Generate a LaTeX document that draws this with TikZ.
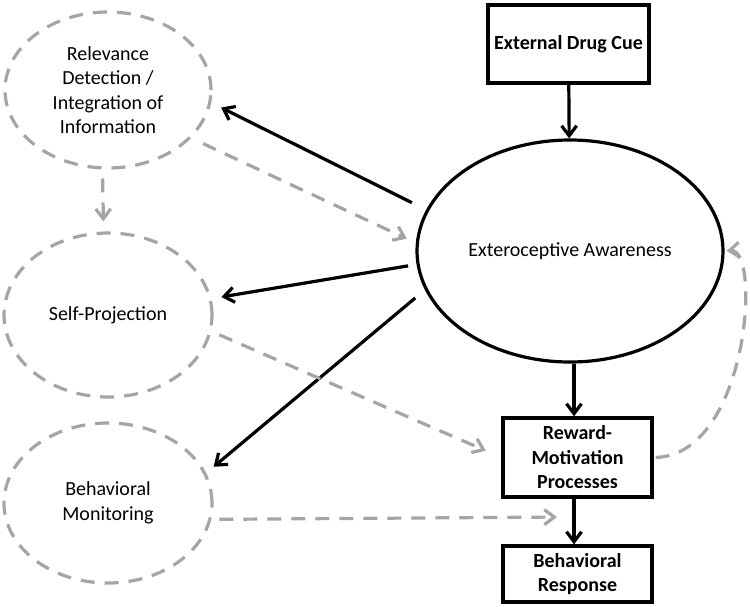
\documentclass[tikz,border=0pt]{standalone}
\usepackage{fontspec}
\setmainfont{Carlito}
\usetikzlibrary{shapes.geometric,arrows.meta,calc}
\definecolor{dgray}{RGB}{165,165,165}
\tikzset{
  lbl/.style={font=\fontsize{20}{24.5}\selectfont, align=center, inner sep=0pt},
  gell/.style={lbl, ellipse, draw=dgray, line width=3.2pt, dash pattern=on 14pt off 10pt},
  bell/.style={lbl, ellipse, draw=black, line width=3.2pt},
  bbox/.style={lbl, rectangle, draw=black, line width=3.2pt, font=\fontsize{20}{24.5}\selectfont\bfseries},
  blk/.style={draw=black, line width=3.2pt, -{Straight Barb[length=10pt,width=15pt]}},
  gry/.style={draw=dgray, line width=3.2pt, dash pattern=on 14pt off 10pt, -{Straight Barb[length=10pt,width=15pt]}},
}
\begin{document}
\begin{tikzpicture}[x=1pt,y=-1pt]
\useasboundingbox (0,0) rectangle (750,606);
% nodes
\node[gell, minimum width=206pt, minimum height=156pt] (rel) at (108,90) {Relevance\\Detection /\\Integration of\\Information};
\node[gell, minimum width=208pt, minimum height=164pt] (self) at (108,315) {Self-Projection};
\node[gell, minimum width=208pt, minimum height=160pt] (bm) at (108,503) {Behavioral\\Monitoring};
\node[bbox, minimum width=161pt, minimum height=78pt] (cue) at (568.5,44) {External Drug Cue};
\node[bell, minimum width=306pt, minimum height=222pt] (ext) at (570,251) {Exteroceptive Awareness};
\node[bbox, minimum width=149pt, minimum height=79pt] (rew) at (577.5,457.5) {Reward-\\Motivation\\Processes};
\node[bbox, minimum width=149pt, minimum height=56pt] (br) at (577.5,574) {Behavioral\\Response};
\coordinate (mid) at ($([xshift=-3.5pt]rew.south)!0.4!([xshift=-3.5pt]br.north)$);
% black connectors
\draw[blk] (cue) -- (ext);
\draw[blk] ([xshift=-3.5pt]rew.north |- ext.south) -- ([xshift=-3.5pt]rew.north);
\draw[blk] ([xshift=-3.5pt]rew.south) -- ([xshift=-3.5pt]br.north);
\draw[blk, shorten <=16pt, shorten >=11pt] (ext.164.4) -- (rel.353.2);
\draw[blk, shorten <=8.5pt, shorten >=10pt] (ext.185.9) -- (self.9.2);
\draw[blk, shorten <=12.6pt, shorten >=9.7pt] (ext.195.2) -- (bm.17.2);
% gray dashed connectors
\draw[gry, shorten <=13pt, shorten >=10pt] (rel.330.9) -- (ext.177.5);
\draw[gry, shorten <=9pt, shorten >=10pt] (rel.266.3) -- (self.93.5);
\draw[gry, shorten <=8.5pt, shorten >=17pt] (self.351.9) -- (rew.west);
\draw[gry, shorten <=8pt, shorten >=17pt] (bm.351.6) -- (mid);
\draw[gry, shorten <=2pt, shorten >=2pt] (rew.east) .. controls (748,455) and (762,248) .. (ext.east);
\end{tikzpicture}
\end{document}
